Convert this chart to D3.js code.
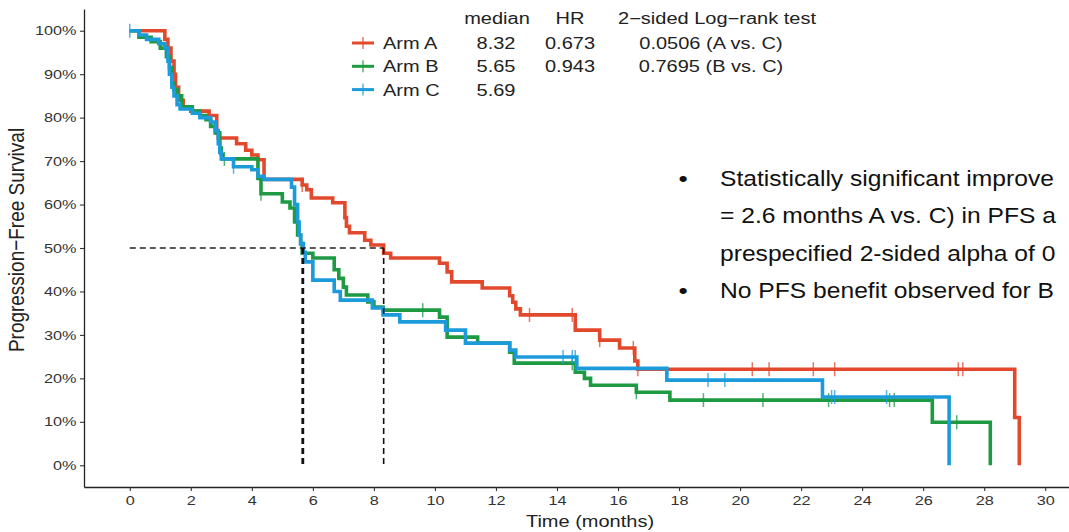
<!DOCTYPE html>
<html lang="en">
<head>
  <meta charset="utf-8">
  <title>PFS by Arm</title>
  <script src="https://d3js.org/d3.v7.min.js"></script>
  <style type="text/css">
    body { margin: 0; background: #fff; }
    svg { display: block; font-family: "Liberation Sans", Arial, sans-serif; }
  </style>
</head>
<body>
  <script type="text/javascript">

// curves: step times (months) and survival (%)
const armATime = [0, 1.15, 1.25, 1.35, 1.45, 1.5, 1.6, 1.75, 2.0, 2.6, 2.85, 2.9, 3.5, 3.8, 4.0, 4.2, 4.4, 5.65, 5.8, 5.95, 6.65, 7.05, 7.1, 7.2, 7.7, 7.9, 8.32, 8.55, 10.15, 10.4, 10.55, 11.55, 12.45, 12.55, 12.65, 12.8, 14.6, 15.4, 16.05, 16.55, 16.65, 29.0, 29.15];
const armASurv = [100, 98, 96, 93, 90, 87, 84, 82.5, 81.5, 80.5, 76.5, 75.3, 74, 72.5, 71.4, 70.3, 65.8, 64.5, 63.4, 61.5, 60.4, 57, 55, 53.5, 51.8, 50.7, 48.8, 47.7, 46.5, 44.5, 42.2, 40.8, 39, 37.5, 36, 34.6, 31.1, 28.8, 27, 24, 22.1, 11, 0];
const armACensor = [5.65, 13.1, 14.5, 15.4, 16.5, 16.65, 20.4, 20.95, 22.4, 23.1, 27.15, 27.3];

const armBTime = [0, 0.3, 0.7, 1.0, 1.2, 1.3, 1.38, 1.45, 1.55, 1.7, 2.05, 2.3, 2.5, 2.65, 2.8, 2.95, 3.0, 3.05, 4.2, 4.3, 5.0, 5.25, 5.4, 5.5, 5.6, 5.65, 6.0, 6.7, 6.85, 7.0, 7.1, 7.8, 8.0, 8.3, 10.15, 10.4, 11.4, 12.45, 12.6, 14.6, 14.9, 15.1, 16.6, 17.7, 26.3, 28.2];
const armBSurv = [100, 98.5, 97.5, 96, 94, 91.5, 88, 86.5, 85, 82.5, 81.5, 80.5, 79.5, 78, 76.5, 73, 71.5, 70.5, 66, 62.5, 60.6, 59.2, 56, 53, 51, 48.8, 47.7, 45, 43, 41, 39.2, 37.6, 36.4, 35.7, 34.1, 29.5, 28.1, 26, 23.5, 21.4, 20, 18.4, 16.8, 15, 9.9, 0];
const armBCensor = [3.1, 4.3, 9.6, 14.5, 16.6, 18.8, 20.75, 22.9, 24.9, 25.05, 27.1];

const armCTime = [0, 0.3, 0.55, 0.95, 1.15, 1.25, 1.3, 1.38, 1.45, 1.55, 1.65, 2.05, 2.3, 2.65, 2.8, 2.9, 2.95, 3.0, 3.4, 4.0, 4.2, 4.4, 5.3, 5.4, 5.5, 5.55, 5.6, 5.69, 5.75, 6.0, 6.7, 6.9, 7.95, 8.3, 8.85, 10.35, 11.0, 12.45, 12.65, 14.65, 17.6, 22.7, 26.85];
const armCSurv = [100, 99, 98, 97, 96, 93, 90, 87, 85, 83, 82, 81, 80, 79, 77, 74, 72, 70.5, 68.7, 68, 66.5, 65.8, 64, 60, 56, 53, 51, 49, 46.8, 42.6, 40, 38, 36.2, 34.6, 33, 31.1, 28.1, 26.5, 24.9, 22.3, 19.6, 15.7, 0];
const armCCensor = [0, 3.4, 14.2, 14.5, 14.6, 18.95, 19.5, 23.0, 23.1, 24.8];

const armNames = ["Arm A", "Arm B", "Arm C"];
const armColors = ["#e2492c", "#1d9a42", "#1c9bdb"];
const medians = [8.32, 5.65, 5.69];
const medianLabels = ["8.32", "5.65", "5.69"];
const hrLabels = ["0.673", "0.943", ""];
const pLabels = ["0.0506 (A vs. C)", "0.7695 (B vs. C)", ""];
const xTicks = [0, 2, 4, 6, 8, 10, 12, 14, 16, 18, 20, 22, 24, 26, 28, 30];
const yTicks = [0, 10, 20, 30, 40, 50, 60, 70, 80, 90, 100];
const bulletLines = [
  ["•", "Statistically significant improve"],
  ["", "= 2.6 months A vs. C) in PFS a"],
  ["", "prespecified 2-sided alpha of 0"],
  ["•", "No PFS benefit observed for B"]
];

const svgWidth = 1069;
const svgHeight = 532;
const sx = 1.25; // the picture is stretched sideways

const svg = d3.select("body")
    .append("svg")
    .attr("width", svgWidth)
    .attr("height", svgHeight);

const xScale = d3.scaleLinear()
    .domain([-1.5, 31.5])
    .range([84, 1091]);

const yScale = d3.scaleLinear()
    .domain([-5, 105])
    .range([487, 9]);

// axes
const xAxis = d3.axisBottom(xScale)
    .tickValues(xTicks)
    .tickSize(4)
    .tickSizeOuter(0)
    .tickPadding(5);

const gx = svg.append("g")
    .attr("transform", `translate(0, ${yScale(-5)})`)
    .call(xAxis);

const yAxis = d3.axisLeft(yScale)
    .tickValues(yTicks)
    .tickFormat(d => d + "%")
    .tickSize(4)
    .tickSizeOuter(0)
    .tickPadding(2);

const gy = svg.append("g")
    .attr("transform", `translate(${xScale(-1.5)}, 0)`)
    .call(yAxis);

[gx, gy].forEach(g => {
  g.select(".domain").attr("stroke", "#222").attr("stroke-width", 1.3);
  g.selectAll(".tick line").attr("stroke", "#333").attr("stroke-width", 1.1);
  g.selectAll(".tick text")
    .attr("fill", "#333")
    .style("font-size", "13px")
    .style("font-family", "'Liberation Sans', Arial, sans-serif");
});
gx.selectAll(".tick text").attr("transform", `scale(${sx},1)`);
gy.selectAll(".tick text").attr("transform", `scale(${sx},1)`);

svg.append("text")
    .attr("transform", `translate(590, 527) scale(${sx},1)`)
    .attr("text-anchor", "middle")
    .style("font-size", "16px")
    .attr("fill", "#222")
    .text("Time (months)");

svg.append("text")
    .attr("transform", "translate(24, 240) rotate(-90) scale(1,1.2)")
    .attr("text-anchor", "middle")
    .style("font-size", "19px")
    .attr("fill", "#222")
    .text("Progression\u2212Free Survival");

// curves
const arms = [
  { time: armATime, surv: armASurv, censor: armACensor },
  { time: armBTime, surv: armBSurv, censor: armBCensor },
  { time: armCTime, surv: armCSurv, censor: armCCensor }
];

function survAt(arm, t) {
  let s = arm.surv[0];
  arm.time.forEach((tt, i) => { if (tt <= t) s = arm.surv[i]; });
  return s;
}

const stepLine = d3.line()
    .x(d => xScale(d[0]))
    .y(d => yScale(d[1]))
    .curve(d3.curveStepAfter);

arms.forEach((arm, i) => {
  const pts = arm.time.map((t, j) => [t, arm.surv[j]]);
  svg.append("path")
     .datum(pts)
     .attr("fill", "none")
     .attr("stroke", armColors[i])
     .attr("stroke-width", 3.6)
     .attr("stroke-linejoin", "miter")
     .attr("d", stepLine);

  svg.selectAll("line.censor-" + i)
     .data(arm.censor)
     .enter()
     .append("line")
     .attr("class", "censor-" + i)
     .attr("x1", d => xScale(d))
     .attr("x2", d => xScale(d))
     .attr("y1", d => yScale(survAt(arm, d)) - 7)
     .attr("y2", d => yScale(survAt(arm, d)) + 7)
     .attr("stroke", armColors[i])
     .attr("stroke-width", 1.5)
     .attr("opacity", 0.75);
});

// median lines
svg.append("line")
    .attr("x1", xScale(0))
    .attr("x2", xScale(d3.max(medians)))
    .attr("y1", yScale(50))
    .attr("y2", yScale(50))
    .attr("stroke", "#222")
    .attr("stroke-width", 1.5)
    .attr("stroke-dasharray", "6,4");

svg.selectAll("line.median-v")
    .data(medians)
    .enter()
    .append("line")
    .attr("class", "median-v")
    .attr("x1", d => xScale(d))
    .attr("x2", d => xScale(d))
    .attr("y1", yScale(50))
    .attr("y2", yScale(0))
    .attr("stroke", "#111")
    .attr("stroke-width", 1.6)
    .attr("stroke-dasharray", "6,4");

// legend table
const legendHead = [["median", 497], ["HR", 570], ["2\u2212sided Log\u2212rank test", 717]];
legendHead.forEach(h => {
  svg.append("text")
     .attr("transform", `translate(${h[1]}, 24) scale(${sx},1)`)
     .attr("text-anchor", "middle")
     .style("font-size", "16px")
     .attr("fill", "#222")
     .text(h[0]);
});

armNames.forEach((name, i) => {
  const ry = 43 + i * 23.3;
  const row = svg.append("g");
  row.append("line")
     .attr("x1", 352).attr("x2", 374)
     .attr("y1", ry).attr("y2", ry)
     .attr("stroke", armColors[i])
     .attr("stroke-width", 3);
  row.append("line")
     .attr("x1", 363).attr("x2", 363)
     .attr("y1", ry - 6).attr("y2", ry + 6)
     .attr("stroke", armColors[i])
     .attr("stroke-width", 1.5)
     .attr("opacity", 0.75);
  const cells = [[name, 383, "start"], [medianLabels[i], 496, "middle"], [hrLabels[i], 570, "middle"], [pLabels[i], 711, "middle"]];
  cells.forEach(c => {
    row.append("text")
       .attr("transform", `translate(${c[1]}, ${ry + 6}) scale(${sx},1)`)
       .attr("text-anchor", c[2])
       .style("font-size", "16px")
       .attr("fill", "#222")
       .text(c[0]);
  });
});

// slide bullets (squeezed a little so the lines stay inside the window)
bulletLines.forEach((b, i) => {
  const by = 186 + i * 37.3;
  svg.append("text")
     .attr("transform", `translate(683, ${by}) scale(1.2,1)`)
     .attr("text-anchor", "middle")
     .style("font-size", "22px")
     .attr("fill", "#111")
     .text(b[0]);
  svg.append("text")
     .attr("transform", `translate(720, ${by}) scale(1.12,1)`)
     .style("font-size", "22px")
     .attr("fill", "#111")
     .text(b[1]);
});

  </script>
</body>
</html>
